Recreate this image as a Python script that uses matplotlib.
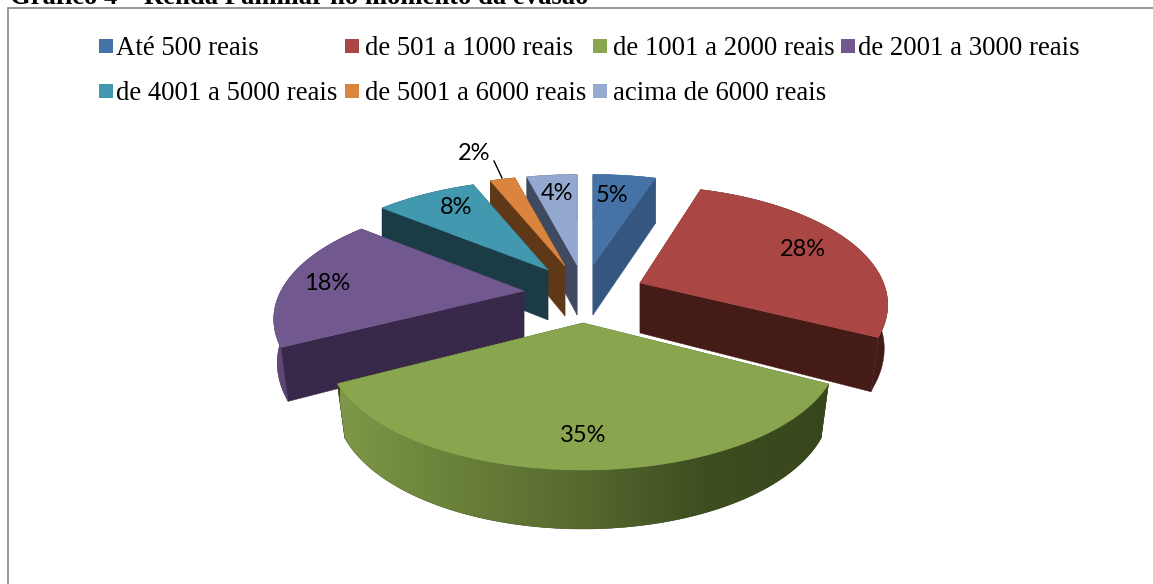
import numpy as np
import matplotlib
matplotlib.use("Agg")
import matplotlib.pyplot as plt
from matplotlib.patches import Polygon, Rectangle
from matplotlib.colors import to_rgb, LinearSegmentedColormap

# --- data ---
categories = ["Até 500 reais", "de 501 a 1000 reais", "de 1001 a 2000 reais", "de 2001 a 3000 reais",
              "de 4001 a 5000 reais", "de 5001 a 6000 reais", "acima de 6000 reais"]
values = [5, 28, 35, 18, 8, 2, 4]
title = "Gráfico 4 – Renda Familiar no momento da evasão"

# --- style ---
top_colors = ["#4572A7", "#AA4643", "#89A54E", "#71588F", "#4198AF", "#DB843D", "#93A9CF"]
wall_colors = ["#34567F", "#451B18", "#38461C", "#38294A", "#1B3C47", "#5E3817", "#3F4A60"]
apex = [(593, 265), (640, 283), (583, 323), (524, 291), (548, 270), (565, 266), (577, 265)]
label_pos = [(612, 196), (803, 250), (583, 435), (327, 283), (456, 208), (474, 153), (557, 194)]
legend_cols = [(99, 116), (345, 365), (593, 613), (841, 858)]
legend_rows = [46, 91]
legend_baseline = [55, 100]
legend_layout = [(0, 0), (1, 0), (2, 0), (3, 0), (0, 1), (1, 1), (2, 1)]
draw_order = [6, 5, 4, 3, 0, 1, 2]
# per-slice perspective corrections: scale, lift of the rim, nudges of start/end angle (deg)
scale = [1, 0.97, 1, 0.98, 1, 1, 1]
lift = [0, 6.5, 0, 0, 0, 0, 0]
nudge_start = [0, 0, 0, -1.5, 0, 0, 0]
nudge_end = [0, 0, -3.5, 0, 0, 0, 0]
S, SK, D = 248.0, 112.0, 4.2

fig = plt.figure(figsize=(11.53, 5.84), dpi=100)
ax = fig.add_axes([0, 0, 1, 1])
ax.axis("off")


def project(theta, ap, k=1.0, up=0.0):
    X, Y = np.sin(theta), np.cos(theta)
    p = D / (D + Y)
    return ap[0] + k * S * X * p, ap[1] - SK * Y * p - up


def drop(theta, x, y, ap):
    Y = np.cos(theta)
    h = 50 - 5 * Y if Y > 0 else 50 - 9 * Y
    shrink = 1 - 0.03 * min(max(-Y, 0) / 0.45, 1)
    return ap[0] + (x - ap[0]) * shrink, y + h


green_cmap = LinearSegmentedColormap.from_list(
    "greenwall", [(0, "#7E9748"), (0.22, "#6B823A"), (0.49, "#566A2F"), (0.74, "#3E4E20"), (1, "#38461C")])

fractions = np.array(values) / sum(values)
ends = np.cumsum(fractions) * 2 * np.pi
starts = ends - fractions * 2 * np.pi

for i in draw_order:
    ap = apex[i]
    t0 = starts[i] + np.radians(nudge_start[i])
    t1 = ends[i] + np.radians(nudge_end[i])
    thetas = np.linspace(t0, t1, max(int((t1 - t0) * 50), 6))
    px, py = project(thetas, ap, scale[i], lift[i])
    z = 2 + draw_order.index(i)
    # radial walls
    for t in (t0, t1):
        x, y = project(t, ap, scale[i], lift[i])
        bx, by = drop(t, x, y, ap)
        ax.add_patch(Polygon([ap, (x, y), (bx, by), (ap[0], ap[1] + 50)], closed=True,
                             fc=wall_colors[i], ec=wall_colors[i], lw=0.3, zorder=z))
    # outer curved wall
    bottoms = [drop(t, x, y, ap) for t, x, y in zip(thetas, px, py)]
    outline = list(zip(px, py)) + bottoms[::-1]
    wall = Polygon(outline, closed=True, fc=wall_colors[i], ec=wall_colors[i], lw=0.3, zorder=z)
    ax.add_patch(wall)
    if i == 2:
        grad = np.linspace(0, 1, 256).reshape(1, -1)
        im = ax.imshow(grad, cmap=green_cmap, extent=[340, 830, 560, 360], aspect="auto",
                       zorder=z + 0.1, interpolation="bilinear")
        im.set_clip_path(wall)
    if i == 3:
        grad = np.linspace(0, 1, 64).reshape(1, -1)
        cm = LinearSegmentedColormap.from_list("pw", ["#6A5186", "#4A3860"])
        im = ax.imshow(grad, cmap=cm, extent=[270, 300, 420, 300], aspect="auto",
                       zorder=z + 0.1, interpolation="bilinear")
        im.set_clip_path(wall)
    # top face
    ax.add_patch(Polygon([ap] + list(zip(px, py)), closed=True, fc=top_colors[i],
                         ec=top_colors[i], lw=0.4, zorder=z + 0.5))

ax.set_xlim(0, 1153)
ax.set_ylim(584, 0)

# data labels
for v, (lx, ly) in zip(values, label_pos):
    ax.text(lx, ly, f"{v}%", ha="center", va="center", fontsize=17,
            family="Lato", color="black", zorder=20)
ax.plot([494, 502], [161, 178], color="black", lw=1.0, zorder=20)

# legend
for name, color, (c, r) in zip(categories, top_colors, legend_layout):
    sx, tx = legend_cols[c]
    ax.add_patch(Rectangle((sx, legend_rows[r] - 7), 14, 14, fc=color, ec="none", zorder=20))
    ax.text(tx, legend_baseline[r], name, ha="left", va="baseline", fontsize=19.3,
            family="Liberation Serif", color="black", zorder=20)

# frame: only the left and top edges are visible
ax.plot([8, 8, 1153], [584, 7.5, 7.5], color="#868686", lw=1.2, zorder=21, solid_joinstyle="miter")

# title, cut by the top edge as in the source
ax.text(10, 4, title, ha="left", va="baseline", fontsize=19.2, fontweight="bold",
        family="Liberation Serif", color="black", zorder=22, clip_on=True)

fig.savefig("out.png", dpi=100)
